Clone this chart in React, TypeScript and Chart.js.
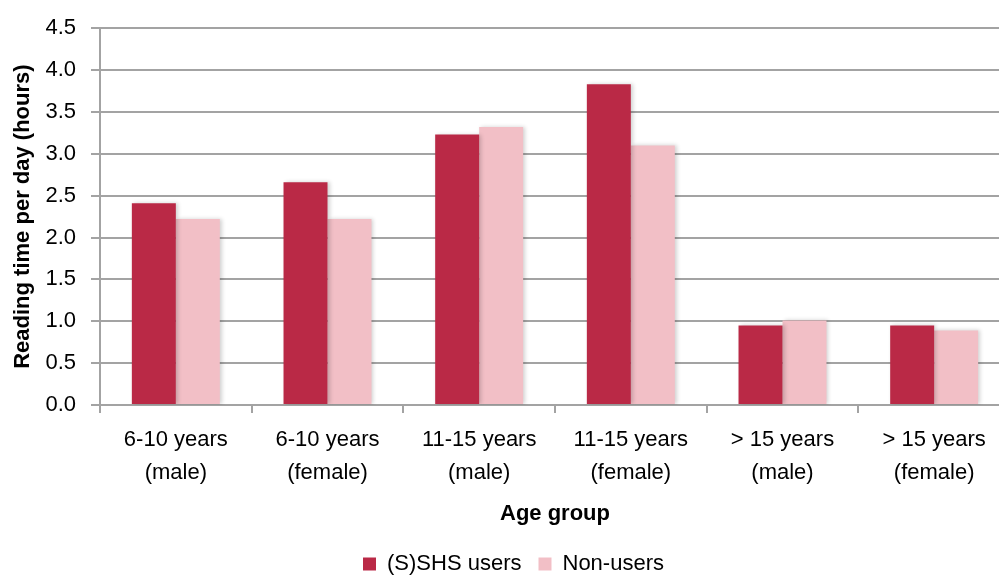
import { useEffect, useRef } from "react";
import { Chart, registerables } from "chart.js";

Chart.register(...registerables);

// Age groups (two-line tick labels)
const ageGroups: string[][] = [
  ["6-10 years", "(male)"],
  ["6-10 years", "(female)"],
  ["11-15 years", "(male)"],
  ["11-15 years", "(female)"],
  ["> 15 years", "(male)"],
  ["> 15 years", "(female)"],
];

// Mean reading time per day, hours
const shsUsers = [2.41, 2.66, 3.23, 3.83, 0.95, 0.95];
const nonUsers = [2.22, 2.22, 3.32, 3.1, 1.01, 0.89];

const seriesNames = ["(S)SHS users", "Non-users"];
const yMin = 0;
const yMax = 4.5;
const yStep = 0.5;

const FONT = "'Liberation Sans', Arial, sans-serif";
const GRID = "#a3a3a3";

const CANVAS_W = 1027;
const CANVAS_H = 585;

// soft drop shadow behind the bars
const barShadow = {
  id: "barShadow",
  beforeDatasetsDraw(chart: Chart) {
    const ctx = chart.ctx;
    ctx.save();
    ctx.shadowColor = "rgba(0,0,0,0.18)";
    ctx.shadowBlur = 4;
    ctx.shadowOffsetX = 2;
    ctx.shadowOffsetY = 0;
  },
  afterDatasetsDraw(chart: Chart) {
    chart.ctx.restore();
  },
};

export default function App() {
  const ref = useRef<HTMLCanvasElement | null>(null);

  useEffect(() => {
    if (!ref.current) return;
    const chart = new Chart(ref.current, {
      type: "bar",
      data: {
        labels: ageGroups,
        datasets: [
          {
            label: seriesNames[0],
            data: shsUsers,
            backgroundColor: "#ba2946",
            borderWidth: 0,
          },
          {
            label: seriesNames[1],
            data: nonUsers,
            backgroundColor: "#f2bfc6",
            borderWidth: 0,
          },
        ],
      },
      options: {
        responsive: false,
        animation: false,
        devicePixelRatio: 1,
        datasets: {
          bar: { categoryPercentage: 0.58, barPercentage: 1 },
        },
        layout: { padding: { top: 13, right: 0, left: 0, bottom: 0 } },
        plugins: {
          tooltip: { enabled: false },
          legend: {
            position: "bottom",
            labels: {
              color: "#000",
              boxWidth: 13,
              boxHeight: 13,
              padding: 17,
              font: { family: FONT, size: 22 },
            },
          },
        },
        scales: {
          x: {
            offset: true,
            grid: {
              offset: true,
              drawOnChartArea: false,
              drawTicks: true,
              tickLength: 8,
              color: GRID,
              lineWidth: 2,
            },
            border: { display: true, color: GRID, width: 2 },
            ticks: {
              color: "#000",
              padding: 10,
              maxRotation: 0,
              autoSkip: false,
              font: { family: FONT, size: 22, lineHeight: 1.5 },
            },
            title: {
              display: true,
              text: "Age group",
              color: "#000",
              font: { family: FONT, size: 22, weight: "bold" },
              padding: { top: 4, bottom: 9 },
            },
            afterFit(scale: any) {
              scale.height = 131;
              // keep the plot narrower than the legend band on the right
              scale.paddingRight = 17;
            },
          },
          y: {
            min: yMin,
            max: yMax,
            grid: {
              color: GRID,
              lineWidth: 2,
              drawTicks: true,
              tickLength: 9,
            },
            border: { display: true, color: GRID, width: 2 },
            ticks: {
              stepSize: yStep,
              color: "#000",
              padding: 15,
              font: { family: FONT, size: 22 },
              callback: (v: any) => Number(v).toFixed(1),
            },
            title: {
              display: true,
              text: "Reading time per day (hours)",
              color: "#000",
              font: { family: FONT, size: 22, weight: "bold" },
              padding: { top: 10, bottom: 0 },
            },
            afterFit(scale: any) {
              scale.width = 100;
            },
          },
        },
      },
      plugins: [barShadow],
    });
    return () => chart.destroy();
  }, []);

  return (
    <div
      style={{
        position: "fixed",
        left: 0,
        top: 0,
        width: 999,
        height: 577,
        overflow: "hidden",
        background: "#fff",
      }}
    >
      <canvas
        ref={ref}
        width={CANVAS_W}
        height={CANVAS_H}
        style={{ display: "block", width: CANVAS_W, height: CANVAS_H }}
      />
    </div>
  );
}
